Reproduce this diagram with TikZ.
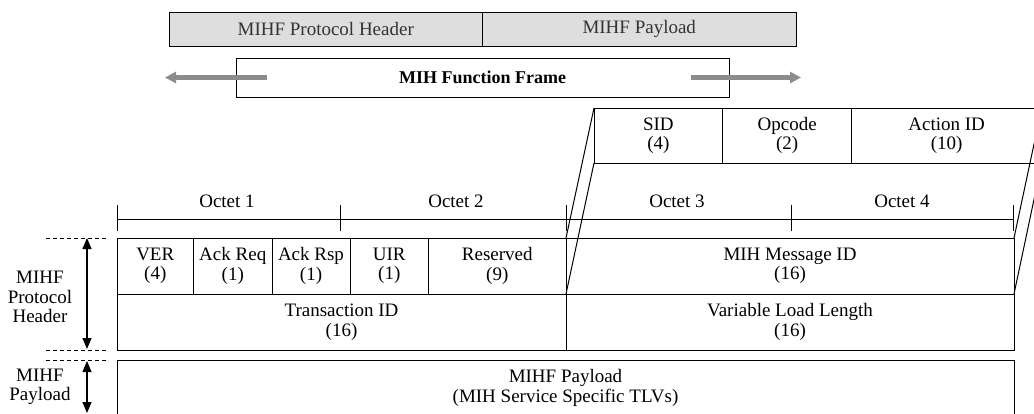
\documentclass[tikz,border=0pt]{standalone}
\usepackage{fontspec}
\setmainfont{Liberation Serif}
\usetikzlibrary{positioning,arrows.meta}

\tikzset{
  every node/.style={font=\fontsize{19}{19.5}\selectfont, inner sep=0pt, outer sep=0pt},
  field/.style={draw, line width=1pt, align=center, minimum height=56pt},
  bar/.style={draw, line width=1pt, fill=black!13, text=black!80, minimum height=34pt},
  bigarrow/.style={line width=5pt, draw=black!45, -{Triangle[length=11pt,width=11pt]}},
  span/.style={line width=1.2pt, {Triangle[length=11pt,width=9pt]}-{Triangle[length=11pt,width=9pt]}},
  guide/.style={line width=0.9pt, dash pattern=on 4pt off 3pt},
  slant/.style={line width=1pt}
}

\begin{document}
\begin{tikzpicture}[x=1pt,y=-1pt]
\useasboundingbox (0,0) rectangle (1034,413);

    % frame on top
    \node[bar, minimum width=313.5pt, anchor=north west] (hdr) at (169,12) {MIHF Protocol Header};
    \node[bar, minimum width=313.5pt, right=0pt of hdr] (pay) {MIHF Payload};
    \node[draw, line width=1pt, minimum width=493pt, minimum height=39pt, anchor=north west,
          font=\fontsize{18}{19.5}\selectfont\bfseries] (frame) at (236,58) {MIH Function Frame};
    \coordinate (lt) at (165,77.5);
    \coordinate (rt) at (801,77.5);
    \draw[bigarrow] ([xshift=31pt]frame.west) -- (lt);
    \draw[bigarrow] ([xshift=-38pt]frame.east) -- (rt);

    % octets
    \coordinate (o0) at (117,219);
    \coordinate (o1) at (340,219);
    \coordinate (o2) at (566,219);
    \coordinate (o3) at (791,219);
    \coordinate (o4) at (1013,219);
    \draw[line width=1pt] (o0) -- (o4);
    \foreach \t in {o0,o1,o2,o3,o4}
      \draw[line width=1pt] (\t) ++(0,-14) -- ++(0,26);
    \foreach \x/\n in {227/1,456/2,677/3,902/4}
      \node (oct\n) at (\x,201) {Octet \n};

    % header, first row
    \node[field, minimum width=76.5pt, anchor=north west] (ver) at (117,238) {VER\\(4)};
    \node[field, minimum width=78.5pt, right=0pt of ver] (ackreq) {Ack Req\\(1)};
    \node[field, minimum width=78pt, right=0pt of ackreq] (ackrsp) {Ack Rsp\\(1)};
    \node[field, minimum width=78.5pt, right=0pt of ackrsp] (uir) {UIR\\(1)};
    \node[field, minimum width=137.5pt, right=0pt of uir] (res) {Reserved\\(9)};
    \node[field, minimum width=448pt, right=0pt of res] (msg) {MIH Message ID\\(16)};

    % header, second row
    \node[field, minimum width=449pt, below=0pt of ver.south west, anchor=north west] (trans) {Transaction ID\\(16)};
    \node[field, minimum width=448pt, right=0pt of trans] (vll) {Variable Load Length\\(16)};

    % payload
    \node[field, minimum width=897pt, anchor=north west] (load) at (117,360) {MIHF Payload\\(MIH Service Specific TLVs)};

    % message id split
    \node[field, minimum width=128.7pt, minimum height=55pt, anchor=north west] (sid) at (594,108) {SID\\(4)};
    \node[field, minimum width=129pt, minimum height=55pt, right=0pt of sid] (opc) {Opcode\\(2)};
    \node[field, minimum width=190pt, minimum height=55pt, right=0pt of opc] (act) {Action ID\\(10)};
    \draw[slant] (msg.north west) -- (sid.north west);
    \draw[slant] (msg.south west) -- (sid.south west);
    \draw[slant] (msg.north east) -- (act.north east);
    \draw[slant] (msg.south east) -- (act.south east);

    % left side
    \node[align=center] (hdrlbl) at (40,297) {MIHF\\Protocol\\Header};
    \node[align=center] (paylbl) at (40,387) {MIHF\\Payload};
    \draw[guide] ([xshift=-71pt]ver.north west) -- ([xshift=-10pt]ver.north west);
    \draw[guide] ([xshift=-71pt]trans.south west) -- ([xshift=-10pt]trans.south west);
    \draw[guide] ([xshift=-71pt]load.north west) -- ([xshift=-10pt]load.north west);
    \coordinate (a1) at (87,238);
    \coordinate (a2) at (87,349);
    \coordinate (a3) at (87,361);
    \coordinate (a4) at (87,413);
    \draw[span] (a1) -- (a2);
    \draw[span] (a3) -- (a4);

\end{tikzpicture}
\end{document}
